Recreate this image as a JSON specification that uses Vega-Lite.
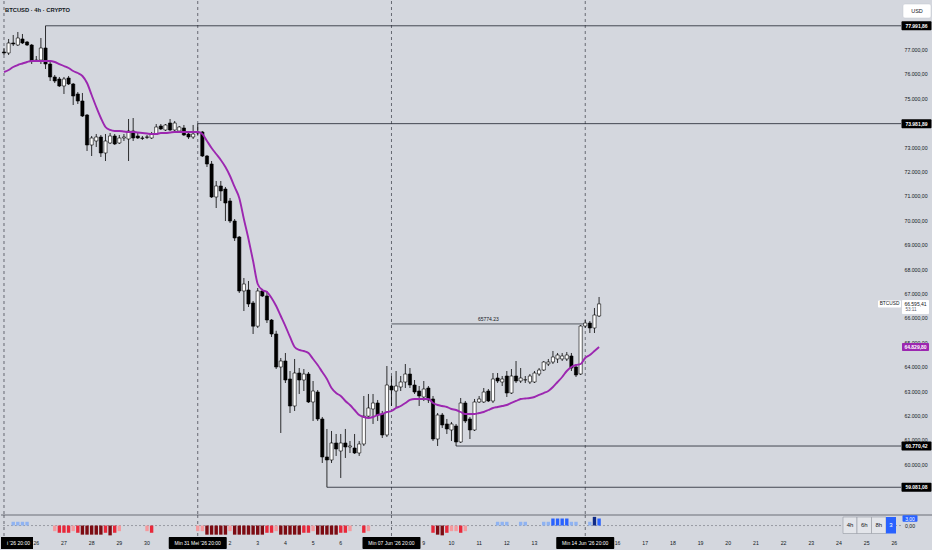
{
  "$schema": "https://vega.github.io/schema/vega-lite/v6.json",
  "background": "#d4d7de",
  "padding": {"left": 0, "top": 0, "right": 0, "bottom": 2},
  "spacing": 0,
  "bounds": "flush",
  "config": {
    "view": {"stroke": null},
    "font": "Liberation Sans",
    "locale": {"number": {"decimal": ",", "thousands": ".", "grouping": [3], "currency": ["", ""]}},
    "axis": {"disable": true}
  },
  "datasets": {
    "candles": [
      {"t": "2026-05-24T20:00Z", "o": 76918, "h": 77082, "l": 76795, "c": 76877, "ma": 76098},
      {"t": "2026-05-25T00:00Z", "o": 76877, "h": 77451, "l": 76795, "c": 77287, "ma": 76180},
      {"t": "2026-05-25T04:00Z", "o": 77287, "h": 77615, "l": 77164, "c": 77246, "ma": 76303},
      {"t": "2026-05-25T08:00Z", "o": 77205, "h": 77738, "l": 77164, "c": 77492, "ma": 76385},
      {"t": "2026-05-25T12:00Z", "o": 77451, "h": 77656, "l": 77246, "c": 77287, "ma": 76447},
      {"t": "2026-05-25T16:00Z", "o": 77328, "h": 77369, "l": 77164, "c": 77205, "ma": 76508},
      {"t": "2026-05-25T20:00Z", "o": 77205, "h": 77246, "l": 76426, "c": 76549, "ma": 76549},
      {"t": "2026-05-26T00:00Z", "o": 76549, "h": 76754, "l": 76508, "c": 76590, "ma": 76549},
      {"t": "2026-05-26T04:00Z", "o": 76590, "h": 77492, "l": 76426, "c": 77082, "ma": 76549},
      {"t": "2026-05-26T08:00Z", "o": 77082, "h": 77991.86, "l": 76221, "c": 76426, "ma": 76549},
      {"t": "2026-05-26T12:00Z", "o": 76426, "h": 76508, "l": 75730, "c": 75894, "ma": 76549},
      {"t": "2026-05-26T16:00Z", "o": 75894, "h": 75975, "l": 75648, "c": 75730, "ma": 76508},
      {"t": "2026-05-26T20:00Z", "o": 75812, "h": 75894, "l": 75484, "c": 75525, "ma": 76426},
      {"t": "2026-05-27T00:00Z", "o": 75525, "h": 75894, "l": 75197, "c": 75812, "ma": 76344},
      {"t": "2026-05-27T04:00Z", "o": 75853, "h": 75935, "l": 75566, "c": 75607, "ma": 76262},
      {"t": "2026-05-27T08:00Z", "o": 75607, "h": 75648, "l": 74746, "c": 75115, "ma": 76139},
      {"t": "2026-05-27T12:00Z", "o": 75197, "h": 75279, "l": 74787, "c": 74910, "ma": 76057},
      {"t": "2026-05-27T16:00Z", "o": 74910, "h": 75238, "l": 74254, "c": 74295, "ma": 75935},
      {"t": "2026-05-27T20:00Z", "o": 74336, "h": 74377, "l": 72861, "c": 73107, "ma": 75648},
      {"t": "2026-05-28T00:00Z", "o": 73107, "h": 73476, "l": 72656, "c": 73394, "ma": 75156},
      {"t": "2026-05-28T04:00Z", "o": 73271, "h": 73558, "l": 73025, "c": 73435, "ma": 74664},
      {"t": "2026-05-28T08:00Z", "o": 73435, "h": 73517, "l": 72615, "c": 72779, "ma": 74213},
      {"t": "2026-05-28T12:00Z", "o": 72779, "h": 73558, "l": 72451, "c": 73271, "ma": 73845},
      {"t": "2026-05-28T16:00Z", "o": 73189, "h": 73599, "l": 73148, "c": 73476, "ma": 73722},
      {"t": "2026-05-28T20:00Z", "o": 73476, "h": 73558, "l": 73107, "c": 73148, "ma": 73681},
      {"t": "2026-05-29T00:00Z", "o": 73189, "h": 73517, "l": 73148, "c": 73394, "ma": 73681},
      {"t": "2026-05-29T04:00Z", "o": 73394, "h": 73558, "l": 73271, "c": 73435, "ma": 73660},
      {"t": "2026-05-29T08:00Z", "o": 73353, "h": 74172, "l": 72451, "c": 73681, "ma": 73640},
      {"t": "2026-05-29T12:00Z", "o": 73681, "h": 74213, "l": 73271, "c": 73394, "ma": 73640},
      {"t": "2026-05-29T16:00Z", "o": 73476, "h": 73599, "l": 73353, "c": 73394, "ma": 73619},
      {"t": "2026-05-29T20:00Z", "o": 73394, "h": 73476, "l": 73312, "c": 73380, "ma": 73599},
      {"t": "2026-05-30T00:00Z", "o": 73435, "h": 73517, "l": 73353, "c": 73425, "ma": 73578},
      {"t": "2026-05-30T04:00Z", "o": 73394, "h": 73640, "l": 73353, "c": 73558, "ma": 73558},
      {"t": "2026-05-30T08:00Z", "o": 73558, "h": 73967, "l": 73517, "c": 73845, "ma": 73558},
      {"t": "2026-05-30T12:00Z", "o": 73886, "h": 73967, "l": 73722, "c": 73763, "ma": 73599},
      {"t": "2026-05-30T16:00Z", "o": 73722, "h": 73967, "l": 73681, "c": 73927, "ma": 73599},
      {"t": "2026-05-30T20:00Z", "o": 74008, "h": 74172, "l": 73681, "c": 73722, "ma": 73619},
      {"t": "2026-05-31T00:00Z", "o": 73722, "h": 74090, "l": 73640, "c": 74008, "ma": 73640},
      {"t": "2026-05-31T04:00Z", "o": 73681, "h": 73886, "l": 73640, "c": 73845, "ma": 73640},
      {"t": "2026-05-31T08:00Z", "o": 73804, "h": 73927, "l": 73476, "c": 73517, "ma": 73640},
      {"t": "2026-05-31T12:00Z", "o": 73558, "h": 73640, "l": 73353, "c": 73435, "ma": 73640},
      {"t": "2026-05-31T16:00Z", "o": 73435, "h": 73927, "l": 73353, "c": 73558, "ma": 73640},
      {"t": "2026-05-31T20:00Z", "o": 73599, "h": 73981.89, "l": 73517, "c": 73640, "ma": 73640},
      {"t": "2026-06-01T00:00Z", "o": 73640, "h": 73681, "l": 72615, "c": 72656, "ma": 73558},
      {"t": "2026-06-01T04:00Z", "o": 72656, "h": 72697, "l": 72205, "c": 72328, "ma": 73271},
      {"t": "2026-06-01T08:00Z", "o": 72328, "h": 72451, "l": 70935, "c": 70976, "ma": 72984},
      {"t": "2026-06-01T12:00Z", "o": 70976, "h": 71632, "l": 70525, "c": 71427, "ma": 72738},
      {"t": "2026-06-01T16:00Z", "o": 71427, "h": 71632, "l": 70812, "c": 71222, "ma": 72492},
      {"t": "2026-06-01T20:00Z", "o": 71304, "h": 71386, "l": 69992, "c": 70730, "ma": 72205},
      {"t": "2026-06-02T00:00Z", "o": 70812, "h": 70935, "l": 69910, "c": 69992, "ma": 71837},
      {"t": "2026-06-02T04:00Z", "o": 69992, "h": 70074, "l": 69173, "c": 69296, "ma": 71386},
      {"t": "2026-06-02T08:00Z", "o": 69337, "h": 69378, "l": 67042, "c": 67124, "ma": 70935},
      {"t": "2026-06-02T12:00Z", "o": 67124, "h": 67657, "l": 66304, "c": 67411, "ma": 70074},
      {"t": "2026-06-02T16:00Z", "o": 67165, "h": 67534, "l": 66468, "c": 66591, "ma": 69255},
      {"t": "2026-06-02T20:00Z", "o": 66632, "h": 66714, "l": 65362, "c": 65681, "ma": 68353},
      {"t": "2026-06-03T00:00Z", "o": 65681, "h": 67247, "l": 65608, "c": 67124, "ma": 67411},
      {"t": "2026-06-03T04:00Z", "o": 67124, "h": 67206, "l": 66878, "c": 66919, "ma": 67165},
      {"t": "2026-06-03T08:00Z", "o": 66919, "h": 67124, "l": 65812, "c": 65935, "ma": 67083},
      {"t": "2026-06-03T12:00Z", "o": 65935, "h": 65976, "l": 65239, "c": 65362, "ma": 66837},
      {"t": "2026-06-03T16:00Z", "o": 65362, "h": 65493, "l": 63927, "c": 64009, "ma": 66509},
      {"t": "2026-06-03T20:00Z", "o": 64009, "h": 64378, "l": 61305, "c": 64255, "ma": 66099},
      {"t": "2026-06-04T00:00Z", "o": 64255, "h": 64583, "l": 63353, "c": 63476, "ma": 65689},
      {"t": "2026-06-04T04:00Z", "o": 63517, "h": 63845, "l": 62124, "c": 62411, "ma": 65239},
      {"t": "2026-06-04T08:00Z", "o": 62411, "h": 64337, "l": 62206, "c": 63763, "ma": 64829},
      {"t": "2026-06-04T12:00Z", "o": 63763, "h": 63968, "l": 62903, "c": 63476, "ma": 64706},
      {"t": "2026-06-04T16:00Z", "o": 63476, "h": 63927, "l": 63025, "c": 63722, "ma": 64665},
      {"t": "2026-06-04T20:00Z", "o": 63722, "h": 63804, "l": 62534, "c": 62575, "ma": 64583},
      {"t": "2026-06-05T00:00Z", "o": 62575, "h": 63435, "l": 61797, "c": 63025, "ma": 64337},
      {"t": "2026-06-05T04:00Z", "o": 62984, "h": 63066, "l": 61797, "c": 61879, "ma": 64091},
      {"t": "2026-06-05T08:00Z", "o": 61879, "h": 61961, "l": 60076, "c": 60322, "ma": 63804},
      {"t": "2026-06-05T12:00Z", "o": 60322, "h": 61469, "l": 59081.08, "c": 60199, "ma": 63517},
      {"t": "2026-06-05T16:00Z", "o": 60199, "h": 61387, "l": 60076, "c": 60895, "ma": 63148},
      {"t": "2026-06-05T20:00Z", "o": 60895, "h": 61264, "l": 60363, "c": 60649, "ma": 62943},
      {"t": "2026-06-06T00:00Z", "o": 60567, "h": 61264, "l": 59461, "c": 60895, "ma": 62821},
      {"t": "2026-06-06T04:00Z", "o": 60895, "h": 61469, "l": 60281, "c": 60731, "ma": 62616},
      {"t": "2026-06-06T08:00Z", "o": 60731, "h": 60977, "l": 60485, "c": 60772, "ma": 62452},
      {"t": "2026-06-06T12:00Z", "o": 60690, "h": 61264, "l": 60444, "c": 60485, "ma": 62247},
      {"t": "2026-06-06T16:00Z", "o": 60485, "h": 60977, "l": 60363, "c": 60854, "ma": 62042},
      {"t": "2026-06-06T20:00Z", "o": 60854, "h": 62821, "l": 60772, "c": 61994, "ma": 61961},
      {"t": "2026-06-07T00:00Z", "o": 61994, "h": 62903, "l": 61920, "c": 62329, "ma": 61920},
      {"t": "2026-06-07T04:00Z", "o": 62288, "h": 62903, "l": 61674, "c": 62534, "ma": 61961},
      {"t": "2026-06-07T08:00Z", "o": 62534, "h": 62657, "l": 61797, "c": 62042, "ma": 62042},
      {"t": "2026-06-07T12:00Z", "o": 62083, "h": 62206, "l": 61100, "c": 61223, "ma": 62083},
      {"t": "2026-06-07T16:00Z", "o": 61223, "h": 64050, "l": 61141, "c": 63271, "ma": 62165},
      {"t": "2026-06-07T20:00Z", "o": 63230, "h": 63640, "l": 62411, "c": 63066, "ma": 62206},
      {"t": "2026-06-08T00:00Z", "o": 63025, "h": 63845, "l": 62329, "c": 63230, "ma": 62329},
      {"t": "2026-06-08T04:00Z", "o": 63189, "h": 63640, "l": 63025, "c": 63394, "ma": 62411},
      {"t": "2026-06-08T08:00Z", "o": 63394, "h": 64132, "l": 63148, "c": 63722, "ma": 62534},
      {"t": "2026-06-08T12:00Z", "o": 63722, "h": 63968, "l": 63148, "c": 63271, "ma": 62657},
      {"t": "2026-06-08T16:00Z", "o": 63271, "h": 63476, "l": 62903, "c": 62984, "ma": 62698},
      {"t": "2026-06-08T20:00Z", "o": 63025, "h": 63230, "l": 62411, "c": 62821, "ma": 62698},
      {"t": "2026-06-09T00:00Z", "o": 62780, "h": 63435, "l": 62616, "c": 63107, "ma": 62698},
      {"t": "2026-06-09T04:00Z", "o": 63148, "h": 63230, "l": 62534, "c": 62657, "ma": 62698},
      {"t": "2026-06-09T08:00Z", "o": 62698, "h": 62821, "l": 60977, "c": 61059, "ma": 62534},
      {"t": "2026-06-09T12:00Z", "o": 61059, "h": 62124, "l": 60772, "c": 62042, "ma": 62452},
      {"t": "2026-06-09T16:00Z", "o": 62042, "h": 62124, "l": 61510, "c": 61633, "ma": 62411},
      {"t": "2026-06-09T20:00Z", "o": 61674, "h": 61879, "l": 61264, "c": 61469, "ma": 62370},
      {"t": "2026-06-10T00:00Z", "o": 61428, "h": 61756, "l": 60977, "c": 61674, "ma": 62288},
      {"t": "2026-06-10T04:00Z", "o": 61592, "h": 61674, "l": 60770.42, "c": 60936, "ma": 62247},
      {"t": "2026-06-10T08:00Z", "o": 60936, "h": 62739, "l": 60895, "c": 62534, "ma": 62165},
      {"t": "2026-06-10T12:00Z", "o": 62534, "h": 62616, "l": 61715, "c": 61797, "ma": 62083},
      {"t": "2026-06-10T16:00Z", "o": 61879, "h": 61961, "l": 61059, "c": 61428, "ma": 62083},
      {"t": "2026-06-10T20:00Z", "o": 61428, "h": 62698, "l": 61387, "c": 62575, "ma": 62083},
      {"t": "2026-06-11T00:00Z", "o": 62575, "h": 62821, "l": 62534, "c": 62698, "ma": 62124},
      {"t": "2026-06-11T04:00Z", "o": 62575, "h": 63148, "l": 62534, "c": 62984, "ma": 62165},
      {"t": "2026-06-11T08:00Z", "o": 63025, "h": 63107, "l": 62575, "c": 62616, "ma": 62247},
      {"t": "2026-06-11T12:00Z", "o": 62616, "h": 63763, "l": 62534, "c": 63517, "ma": 62329},
      {"t": "2026-06-11T16:00Z", "o": 63558, "h": 63763, "l": 63353, "c": 63435, "ma": 62370},
      {"t": "2026-06-11T20:00Z", "o": 63394, "h": 63640, "l": 63230, "c": 63517, "ma": 62411},
      {"t": "2026-06-12T00:00Z", "o": 63640, "h": 63845, "l": 62780, "c": 62943, "ma": 62452},
      {"t": "2026-06-12T04:00Z", "o": 62943, "h": 63927, "l": 62903, "c": 63640, "ma": 62534},
      {"t": "2026-06-12T08:00Z", "o": 63640, "h": 64255, "l": 63353, "c": 63435, "ma": 62616},
      {"t": "2026-06-12T12:00Z", "o": 63435, "h": 63968, "l": 63353, "c": 63558, "ma": 62698},
      {"t": "2026-06-12T16:00Z", "o": 63476, "h": 63640, "l": 63353, "c": 63490, "ma": 62718},
      {"t": "2026-06-12T20:00Z", "o": 63394, "h": 63722, "l": 63312, "c": 63640, "ma": 62739},
      {"t": "2026-06-13T00:00Z", "o": 63394, "h": 63845, "l": 63353, "c": 63763, "ma": 62780},
      {"t": "2026-06-13T04:00Z", "o": 63722, "h": 63968, "l": 63640, "c": 63886, "ma": 62862},
      {"t": "2026-06-13T08:00Z", "o": 63886, "h": 64255, "l": 63845, "c": 64214, "ma": 62943},
      {"t": "2026-06-13T12:00Z", "o": 64132, "h": 64337, "l": 64050, "c": 64214, "ma": 63025},
      {"t": "2026-06-13T16:00Z", "o": 64214, "h": 64665, "l": 64132, "c": 64419, "ma": 63189},
      {"t": "2026-06-13T20:00Z", "o": 64337, "h": 64583, "l": 64173, "c": 64501, "ma": 63394},
      {"t": "2026-06-14T00:00Z", "o": 64337, "h": 64583, "l": 64255, "c": 64460, "ma": 63599},
      {"t": "2026-06-14T04:00Z", "o": 64337, "h": 64624, "l": 64255, "c": 64501, "ma": 63845},
      {"t": "2026-06-14T08:00Z", "o": 64460, "h": 64583, "l": 63845, "c": 63968, "ma": 64009},
      {"t": "2026-06-14T12:00Z", "o": 64009, "h": 64132, "l": 63599, "c": 63681, "ma": 64091},
      {"t": "2026-06-14T16:00Z", "o": 63722, "h": 65730, "l": 63681, "c": 65689, "ma": 64132},
      {"t": "2026-06-14T20:00Z", "o": 65689, "h": 65935, "l": 65608, "c": 65812, "ma": 64378},
      {"t": "2026-06-15T00:00Z", "o": 65812, "h": 65894, "l": 65402, "c": 65608, "ma": 64501},
      {"t": "2026-06-15T04:00Z", "o": 65608, "h": 66427, "l": 65402, "c": 66140, "ma": 64665},
      {"t": "2026-06-15T08:00Z", "o": 66099, "h": 66878, "l": 66058, "c": 66595.41, "ma": 64829.8}
    ],
    "osc": [
      {"t": "2026-05-25T04:00Z", "v": 1.6}, {"t": "2026-05-25T08:00Z", "v": 1.6}, {"t": "2026-05-25T12:00Z", "v": 1.6}, {"t": "2026-05-25T16:00Z", "v": 1.6},
      {"t": "2026-05-26T16:00Z", "v": -2.4}, {"t": "2026-05-26T20:00Z", "v": -3.1}, {"t": "2026-05-27T00:00Z", "v": -3.1}, {"t": "2026-05-27T04:00Z", "v": -3.1},
      {"t": "2026-05-27T08:00Z", "v": -2.4}, {"t": "2026-05-27T12:00Z", "v": -3.1}, {"t": "2026-05-27T16:00Z", "v": -3.9}, {"t": "2026-05-27T20:00Z", "v": -3.9},
      {"t": "2026-05-28T00:00Z", "v": -3.9}, {"t": "2026-05-28T04:00Z", "v": -3.9}, {"t": "2026-05-28T08:00Z", "v": -3.9}, {"t": "2026-05-28T12:00Z", "v": -3.1},
      {"t": "2026-05-28T16:00Z", "v": -4.2}, {"t": "2026-05-28T20:00Z", "v": -3.1}, {"t": "2026-05-29T00:00Z", "v": -2.4},
      {"t": "2026-05-30T00:00Z", "v": -2.4}, {"t": "2026-05-30T04:00Z", "v": -3.1},
      {"t": "2026-05-31T20:00Z", "v": -2.4}, {"t": "2026-06-01T00:00Z", "v": -2.4}, {"t": "2026-06-01T04:00Z", "v": -3.9}, {"t": "2026-06-01T08:00Z", "v": -3.9},
      {"t": "2026-06-01T12:00Z", "v": -3.9}, {"t": "2026-06-01T16:00Z", "v": -3.9}, {"t": "2026-06-01T20:00Z", "v": -3.9}, {"t": "2026-06-02T00:00Z", "v": -2.4},
      {"t": "2026-06-02T04:00Z", "v": -3.9}, {"t": "2026-06-02T08:00Z", "v": -3.9}, {"t": "2026-06-02T12:00Z", "v": -3.9}, {"t": "2026-06-02T16:00Z", "v": -3.9},
      {"t": "2026-06-02T20:00Z", "v": -3.9}, {"t": "2026-06-03T00:00Z", "v": -3.9}, {"t": "2026-06-03T04:00Z", "v": -3.9}, {"t": "2026-06-03T08:00Z", "v": -3.1},
      {"t": "2026-06-03T12:00Z", "v": -3.1}, {"t": "2026-06-03T16:00Z", "v": -2.4}, {"t": "2026-06-03T20:00Z", "v": -3.9}, {"t": "2026-06-04T00:00Z", "v": -3.9},
      {"t": "2026-06-04T04:00Z", "v": -3.9}, {"t": "2026-06-04T08:00Z", "v": -3.9}, {"t": "2026-06-04T12:00Z", "v": -3.9}, {"t": "2026-06-04T16:00Z", "v": -3.1},
      {"t": "2026-06-04T20:00Z", "v": -3.1}, {"t": "2026-06-05T00:00Z", "v": -2.4}, {"t": "2026-06-05T04:00Z", "v": -3.9}, {"t": "2026-06-05T08:00Z", "v": -3.9},
      {"t": "2026-06-05T12:00Z", "v": -3.9}, {"t": "2026-06-05T16:00Z", "v": -3.9}, {"t": "2026-06-05T20:00Z", "v": -3.9}, {"t": "2026-06-06T00:00Z", "v": -3.1},
      {"t": "2026-06-06T04:00Z", "v": -3.1}, {"t": "2026-06-06T08:00Z", "v": -2.4}, {"t": "2026-06-06T20:00Z", "v": -3.1}, {"t": "2026-06-07T00:00Z", "v": -2.4},
      {"t": "2026-06-09T08:00Z", "v": -3.1}, {"t": "2026-06-09T12:00Z", "v": -3.9}, {"t": "2026-06-09T16:00Z", "v": -4.2}, {"t": "2026-06-09T20:00Z", "v": -3.1},
      {"t": "2026-06-10T00:00Z", "v": -2.4}, {"t": "2026-06-10T04:00Z", "v": -2.4}, {"t": "2026-06-10T08:00Z", "v": -3.1}, {"t": "2026-06-10T12:00Z", "v": -2.4},
      {"t": "2026-06-11T16:00Z", "v": 1.6}, {"t": "2026-06-11T20:00Z", "v": 1.6}, {"t": "2026-06-12T00:00Z", "v": 1.6},
      {"t": "2026-06-12T12:00Z", "v": 1.6}, {"t": "2026-06-12T16:00Z", "v": 1.6},
      {"t": "2026-06-13T08:00Z", "v": 1.6}, {"t": "2026-06-13T12:00Z", "v": 1.6}, {"t": "2026-06-13T16:00Z", "v": 3.0}, {"t": "2026-06-13T20:00Z", "v": 3.0},
      {"t": "2026-06-14T00:00Z", "v": 3.0}, {"t": "2026-06-14T04:00Z", "v": 3.0}, {"t": "2026-06-14T08:00Z", "v": 1.6}, {"t": "2026-06-14T12:00Z", "v": 1.6},
      {"t": "2026-06-15T00:00Z", "v": 1.6}, {"t": "2026-06-15T04:00Z", "v": 3.7}, {"t": "2026-06-15T08:00Z", "v": 3.0}
    ],
    "sessions": [
      {"t": "2026-05-24T20:00Z"}, {"t": "2026-05-31T20:00Z"}, {"t": "2026-06-07T20:00Z"}, {"t": "2026-06-14T20:00Z"}
    ],
    "sessionTags": [
      {"t": "2026-05-31T20:00Z", "label": "Min 31 Mei '26   20:00"},
      {"t": "2026-06-07T20:00Z", "label": "Min 07 Jun '26   20:00"},
      {"t": "2026-06-14T20:00Z", "label": "Min 14 Jun '26   20:00"}
    ],
    "days": [
      {"t": "2026-05-26T00:00Z", "d": "26"}, {"t": "2026-05-27T00:00Z", "d": "27"}, {"t": "2026-05-28T00:00Z", "d": "28"},
      {"t": "2026-05-29T00:00Z", "d": "29"}, {"t": "2026-05-30T00:00Z", "d": "30"},
      {"t": "2026-06-02T00:00Z", "d": "2"}, {"t": "2026-06-03T00:00Z", "d": "3"}, {"t": "2026-06-04T00:00Z", "d": "4"},
      {"t": "2026-06-05T00:00Z", "d": "5"}, {"t": "2026-06-06T00:00Z", "d": "6"},
      {"t": "2026-06-09T00:00Z", "d": "9"}, {"t": "2026-06-10T00:00Z", "d": "10"}, {"t": "2026-06-11T00:00Z", "d": "11"},
      {"t": "2026-06-12T00:00Z", "d": "12"}, {"t": "2026-06-13T00:00Z", "d": "13"},
      {"t": "2026-06-16T00:00Z", "d": "16"}, {"t": "2026-06-17T00:00Z", "d": "17"}, {"t": "2026-06-18T00:00Z", "d": "18"},
      {"t": "2026-06-19T00:00Z", "d": "19"}, {"t": "2026-06-20T00:00Z", "d": "20"}, {"t": "2026-06-21T00:00Z", "d": "21"},
      {"t": "2026-06-22T00:00Z", "d": "22"}, {"t": "2026-06-23T00:00Z", "d": "23"}, {"t": "2026-06-24T00:00Z", "d": "24"},
      {"t": "2026-06-25T00:00Z", "d": "25"}, {"t": "2026-06-26T00:00Z", "d": "26"}
    ],
    "priceTicks": [
      {"p": 60000}, {"p": 61000}, {"p": 62000}, {"p": 63000}, {"p": 64000}, {"p": 65000}, {"p": 66000}, {"p": 67000}, {"p": 68000},
      {"p": 69000}, {"p": 70000}, {"p": 71000}, {"p": 72000}, {"p": 73000}, {"p": 74000}, {"p": 75000}, {"p": 76000}, {"p": 77000}
    ],
    "levels": [
      {"t": "2026-05-26T08:00Z", "p": 77991.86},
      {"t": "2026-05-31T20:00Z", "p": 73981.89},
      {"t": "2026-06-05T12:00Z", "p": 59081.08},
      {"t": "2026-06-10T04:00Z", "p": 60770.42}
    ],
    "one": [{}]
  },
  "vconcat": [
    {
      "width": 900,
      "height": 514,
      "layer": [
        {
          "data": {"name": "sessions"},
          "mark": {"type": "rule", "strokeDash": [3, 3], "color": "#4a4d57", "strokeWidth": 0.8},
          "encoding": {
            "x": {"field": "t", "type": "temporal", "scale": {"domain": [1779643440000, 1782452880000], "padding": 0}}
          }
        },
        {
          "data": {"name": "priceTicks"},
          "mark": {"type": "text", "align": "left", "fontSize": 5.2, "color": "#131722", "dx": 3.5},
          "encoding": {
            "x": {"datum": 1782452880000, "type": "temporal"},
            "y": {"field": "p", "type": "quantitative", "scale": {"domain": [57944, 79008], "zero": false, "nice": false}},
            "text": {"field": "p", "type": "quantitative", "format": ",.2f"}
          }
        },
        {
          "data": {"name": "levels"},
          "mark": {"type": "rule", "color": "#1e222d", "strokeWidth": 0.8},
          "encoding": {
            "x": {"field": "t", "type": "temporal"},
            "x2": {"datum": 1782452880000},
            "y": {"field": "p", "type": "quantitative"}
          }
        },
        {
          "data": {"name": "one"},
          "mark": {"type": "rule", "color": "#1e222d", "strokeWidth": 0.7},
          "encoding": {
            "x": {"datum": 1780862400000, "type": "temporal"},
            "x2": {"datum": 1781467200000},
            "y": {"datum": 65774.23, "type": "quantitative"}
          }
        },
        {
          "data": {"name": "one"},
          "mark": {"type": "text", "fontSize": 5, "color": "#131722", "dy": -5},
          "encoding": {
            "x": {"datum": 1781164800000, "type": "temporal"},
            "y": {"datum": 65774.23, "type": "quantitative"},
            "text": {"value": "65774.23"}
          }
        },
        {
          "data": {"name": "candles"},
          "mark": {"type": "rule", "color": "#000000", "strokeWidth": 0.8, "clip": true},
          "encoding": {
            "x": {"field": "t", "type": "temporal"},
            "y": {"field": "l", "type": "quantitative"},
            "y2": {"field": "h"}
          }
        },
        {
          "data": {"name": "candles"},
          "mark": {"type": "bar", "width": 3.2, "stroke": "#000000", "strokeWidth": 0.6, "clip": true},
          "encoding": {
            "x": {"field": "t", "type": "temporal"},
            "y": {"field": "o", "type": "quantitative"},
            "y2": {"field": "c"},
            "fill": {"condition": {"test": "datum.c < datum.o", "value": "#000000"}, "value": "#ffffff"}
          }
        },
        {
          "data": {"name": "candles"},
          "mark": {"type": "line", "color": "#9c27b0", "strokeWidth": 1.9, "interpolate": "monotone", "clip": true},
          "encoding": {
            "x": {"field": "t", "type": "temporal"},
            "y": {"field": "ma", "type": "quantitative"}
          }
        },
        {
          "data": {"name": "levels"},
          "mark": {"type": "rect", "color": "#000000", "xOffset": 0.5, "x2Offset": 30.5, "yOffset": -4.5, "y2Offset": 4.5, "cornerRadius": 1},
          "encoding": {
            "x": {"datum": 1782452880000, "type": "temporal"},
            "x2": {"datum": 1782452880000},
            "y": {"field": "p", "type": "quantitative"},
            "y2": {"field": "p"}
          }
        },
        {
          "data": {"name": "levels"},
          "mark": {"type": "text", "color": "#ffffff", "fontSize": 5, "fontWeight": "bold", "dx": 15.5},
          "encoding": {
            "x": {"datum": 1782452880000, "type": "temporal"},
            "y": {"field": "p", "type": "quantitative"},
            "text": {"field": "p", "type": "quantitative", "format": ",.2f"}
          }
        },
        {
          "data": {"name": "one"},
          "mark": {"type": "rect", "color": "#9c27b0", "xOffset": 1, "x2Offset": 28, "yOffset": -4, "y2Offset": 4, "cornerRadius": 1},
          "encoding": {
            "x": {"datum": 1782452880000, "type": "temporal"},
            "x2": {"datum": 1782452880000},
            "y": {"datum": 64829.8, "type": "quantitative"},
            "y2": {"datum": 64829.8}
          }
        },
        {
          "data": {"name": "one"},
          "mark": {"type": "text", "color": "#ffffff", "fontSize": 5, "fontWeight": "bold", "dx": 14.5},
          "encoding": {
            "x": {"datum": 1782452880000, "type": "temporal"},
            "y": {"datum": 64829.8, "type": "quantitative"},
            "text": {"value": "64.829,80"}
          }
        },
        {
          "data": {"name": "one"},
          "mark": {"type": "rect", "color": "#ffffff", "xOffset": 1, "x2Offset": 28, "yOffset": -4, "y2Offset": 10, "cornerRadius": 1},
          "encoding": {
            "x": {"datum": 1782452880000, "type": "temporal"},
            "x2": {"datum": 1782452880000},
            "y": {"datum": 66595.41, "type": "quantitative"},
            "y2": {"datum": 66595.41}
          }
        },
        {
          "data": {"name": "one"},
          "mark": {"type": "text", "color": "#131722", "fontSize": 5, "dx": 14.5},
          "encoding": {
            "x": {"datum": 1782452880000, "type": "temporal"},
            "y": {"datum": 66595.41, "type": "quantitative"},
            "text": {"value": "66.595,41"}
          }
        },
        {
          "data": {"name": "one"},
          "mark": {"type": "text", "color": "#5d606b", "fontSize": 4.6, "dx": 10, "dy": 6.5},
          "encoding": {
            "x": {"datum": 1782452880000, "type": "temporal"},
            "y": {"datum": 66595.41, "type": "quantitative"},
            "text": {"value": "53:11"}
          }
        },
        {
          "data": {"name": "one"},
          "mark": {"type": "rect", "color": "#ffffff", "xOffset": -23, "x2Offset": 0, "yOffset": -3.5, "y2Offset": 3.5, "cornerRadius": 1},
          "encoding": {
            "x": {"datum": 1782452880000, "type": "temporal"},
            "x2": {"datum": 1782452880000},
            "y": {"datum": 66595.41, "type": "quantitative"},
            "y2": {"datum": 66595.41}
          }
        },
        {
          "data": {"name": "one"},
          "mark": {"type": "text", "color": "#131722", "fontSize": 4.8, "dx": -11.5},
          "encoding": {
            "x": {"datum": 1782452880000, "type": "temporal"},
            "y": {"datum": 66595.41, "type": "quantitative"},
            "text": {"value": "BTCUSD"}
          }
        },
        {
          "data": {"name": "one"},
          "mark": {"type": "rect", "color": "#ffffff", "stroke": "#c3c6ce", "strokeWidth": 0.5, "xOffset": 2, "x2Offset": 30, "yOffset": 3, "y2Offset": 17, "cornerRadius": 2},
          "encoding": {
            "x": {"datum": 1782452880000, "type": "temporal"},
            "x2": {"datum": 1782452880000},
            "y": {"datum": 79008, "type": "quantitative"},
            "y2": {"datum": 79008}
          }
        },
        {
          "data": {"name": "one"},
          "mark": {"type": "text", "color": "#131722", "fontSize": 5.5, "dx": 16, "dy": 10},
          "encoding": {
            "x": {"datum": 1782452880000, "type": "temporal"},
            "y": {"datum": 79008, "type": "quantitative"},
            "text": {"value": "USD"}
          }
        },
        {
          "data": {"name": "one"},
          "mark": {"type": "text", "color": "#131722", "fontSize": 5.8, "fontWeight": "bold", "align": "left", "dx": 4, "dy": 9},
          "encoding": {
            "x": {"datum": 1779643440000, "type": "temporal"},
            "y": {"datum": 79008, "type": "quantitative"},
            "text": {"value": "BTCUSD · 4h · CRYPTO"}
          }
        },
        {
          "data": {"name": "one"},
          "mark": {"type": "rule", "color": "#8e9199", "strokeWidth": 1.5, "x2Offset": 32},
          "encoding": {
            "x": {"datum": 1779643440000, "type": "temporal"},
            "x2": {"datum": 1782452880000},
            "y": {"datum": 57944, "type": "quantitative"}
          }
        }
      ]
    },
    {
      "width": 900,
      "height": 22,
      "layer": [
        {
          "data": {"name": "sessions"},
          "mark": {"type": "rule", "strokeDash": [3, 3], "color": "#4a4d57", "strokeWidth": 0.8},
          "encoding": {
            "x": {"field": "t", "type": "temporal", "scale": {"domain": [1779643440000, 1782452880000], "padding": 0}}
          }
        },
        {
          "data": {"name": "one"},
          "mark": {"type": "rule", "strokeDash": [2, 2], "color": "#80838d", "strokeWidth": 0.7},
          "encoding": {
            "y": {"datum": 0, "type": "quantitative", "scale": {"domain": [-4.9, 4.5], "zero": false, "nice": false}}
          }
        },
        {
          "data": {"name": "one"},
          "mark": {"type": "text", "align": "left", "fontSize": 5.2, "color": "#131722", "dx": 4},
          "encoding": {
            "x": {"datum": 1782452880000, "type": "temporal"},
            "y": {"datum": 0, "type": "quantitative"},
            "text": {"value": "0,00"}
          }
        },
        {
          "data": {"name": "osc"},
          "mark": {"type": "bar", "width": 3.4},
          "encoding": {
            "x": {"field": "t", "type": "temporal"},
            "y": {"field": "v", "type": "quantitative"},
            "y2": {"datum": 0},
            "color": {"field": "v", "type": "quantitative", "legend": null,
                      "scale": {"type": "threshold", "domain": [-3.6, -2.8, 0, 2.3, 3.4],
                                "range": ["#7d0b12", "#e8283a", "#f59a9e", "#8fb3f2", "#2962ff", "#0e2a86"]}}
          }
        },
        {
          "data": {"name": "days"},
          "mark": {"type": "text", "fontSize": 5.2, "color": "#131722", "dy": 6},
          "encoding": {
            "x": {"field": "t", "type": "temporal"},
            "y": {"datum": -4.9, "type": "quantitative"},
            "text": {"field": "d"}
          }
        },
        {
          "data": {"name": "sessionTags"},
          "mark": {"type": "rect", "color": "#000000", "xOffset": -29, "x2Offset": 29, "yOffset": 0, "y2Offset": 12, "cornerRadius": 1},
          "encoding": {
            "x": {"field": "t", "type": "temporal"},
            "x2": {"field": "t"},
            "y": {"datum": -4.9, "type": "quantitative"},
            "y2": {"datum": -4.9}
          }
        },
        {
          "data": {"name": "sessionTags"},
          "mark": {"type": "text", "color": "#ffffff", "fontSize": 5, "dy": 6},
          "encoding": {
            "x": {"field": "t", "type": "temporal"},
            "y": {"datum": -4.9, "type": "quantitative"},
            "text": {"field": "label"}
          }
        },
        {
          "data": {"name": "one"},
          "mark": {"type": "rect", "color": "#000000", "x2Offset": 29, "yOffset": 0, "y2Offset": 12},
          "encoding": {
            "x": {"datum": 1779643440000, "type": "temporal"},
            "x2": {"datum": 1779652800000},
            "y": {"datum": -4.9, "type": "quantitative"},
            "y2": {"datum": -4.9}
          }
        },
        {
          "data": {"name": "one"},
          "mark": {"type": "text", "color": "#ffffff", "fontSize": 5, "align": "right", "dx": 26, "dy": 6},
          "encoding": {
            "x": {"datum": 1779652800000, "type": "temporal"},
            "y": {"datum": -4.9, "type": "quantitative"},
            "text": {"value": "i '26   20:00"}
          }
        },
        {
          "data": {"name": "one"},
          "mark": {"type": "rect", "color": "#2962ff", "xOffset": 1.5, "x2Offset": 16.5, "yOffset": -3.3, "y2Offset": 3.3, "cornerRadius": 1},
          "encoding": {
            "x": {"datum": 1782452880000, "type": "temporal"},
            "x2": {"datum": 1782452880000},
            "y": {"datum": 3, "type": "quantitative"},
            "y2": {"datum": 3}
          }
        },
        {
          "data": {"name": "one"},
          "mark": {"type": "text", "color": "#ffffff", "fontSize": 5, "dx": 9},
          "encoding": {
            "x": {"datum": 1782452880000, "type": "temporal"},
            "y": {"datum": 3, "type": "quantitative"},
            "text": {"value": "3,00"}
          }
        },
        {
          "data": {"name": "one"},
          "mark": {"type": "rect", "color": "#e3e5ea", "stroke": "#9598a1", "strokeWidth": 0.6, "xOffset": -58, "x2Offset": -44, "yOffset": 2, "y2Offset": 18.5},
          "encoding": {
            "x": {"datum": 1782452880000, "type": "temporal"},
            "x2": {"datum": 1782452880000},
            "y": {"datum": 4.5, "type": "quantitative"},
            "y2": {"datum": 4.5}
          }
        },
        {
          "data": {"name": "one"},
          "mark": {"type": "rect", "color": "#e3e5ea", "stroke": "#9598a1", "strokeWidth": 0.6, "xOffset": -44, "x2Offset": -29.5, "yOffset": 2, "y2Offset": 18.5},
          "encoding": {
            "x": {"datum": 1782452880000, "type": "temporal"},
            "x2": {"datum": 1782452880000},
            "y": {"datum": 4.5, "type": "quantitative"},
            "y2": {"datum": 4.5}
          }
        },
        {
          "data": {"name": "one"},
          "mark": {"type": "rect", "color": "#e3e5ea", "stroke": "#9598a1", "strokeWidth": 0.6, "xOffset": -29.5, "x2Offset": -15, "yOffset": 2, "y2Offset": 18.5},
          "encoding": {
            "x": {"datum": 1782452880000, "type": "temporal"},
            "x2": {"datum": 1782452880000},
            "y": {"datum": 4.5, "type": "quantitative"},
            "y2": {"datum": 4.5}
          }
        },
        {
          "data": {"name": "one"},
          "mark": {"type": "rect", "color": "#2962ff", "xOffset": -15, "x2Offset": -5, "yOffset": 2, "y2Offset": 18.5},
          "encoding": {
            "x": {"datum": 1782452880000, "type": "temporal"},
            "x2": {"datum": 1782452880000},
            "y": {"datum": 4.5, "type": "quantitative"},
            "y2": {"datum": 4.5}
          }
        },
        {
          "data": {"name": "one"},
          "mark": {"type": "text", "color": "#131722", "fontSize": 6, "dx": -51, "dy": 10.3},
          "encoding": {
            "x": {"datum": 1782452880000, "type": "temporal"},
            "y": {"datum": 4.5, "type": "quantitative"},
            "text": {"value": "4h"}
          }
        },
        {
          "data": {"name": "one"},
          "mark": {"type": "text", "color": "#131722", "fontSize": 6, "dx": -36.7, "dy": 10.3},
          "encoding": {
            "x": {"datum": 1782452880000, "type": "temporal"},
            "y": {"datum": 4.5, "type": "quantitative"},
            "text": {"value": "6h"}
          }
        },
        {
          "data": {"name": "one"},
          "mark": {"type": "text", "color": "#131722", "fontSize": 6, "dx": -22.2, "dy": 10.3},
          "encoding": {
            "x": {"datum": 1782452880000, "type": "temporal"},
            "y": {"datum": 4.5, "type": "quantitative"},
            "text": {"value": "8h"}
          }
        },
        {
          "data": {"name": "one"},
          "mark": {"type": "text", "color": "#ffffff", "fontSize": 6, "dx": -10, "dy": 10.3},
          "encoding": {
            "x": {"datum": 1782452880000, "type": "temporal"},
            "y": {"datum": 4.5, "type": "quantitative"},
            "text": {"value": "3"}
          }
        }
      ]
    }
  ]
}
